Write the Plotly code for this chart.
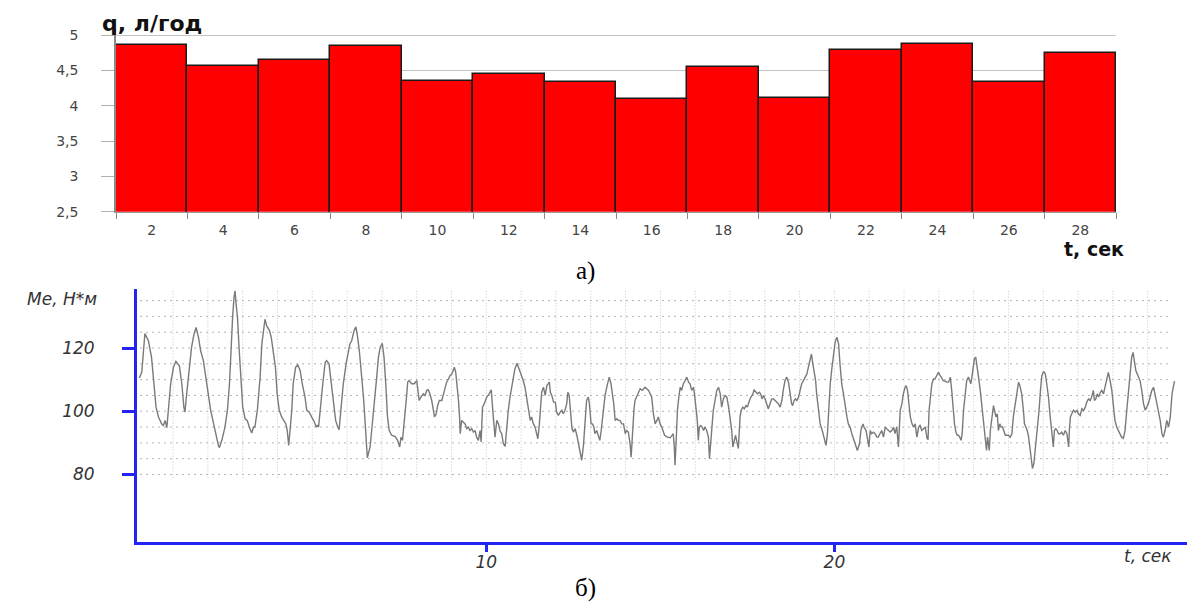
import plotly.graph_objects as go

# ---------------- data: top histogram ----------------
hist_t = [2, 4, 6, 8, 10, 12, 14, 16, 18, 20, 22, 24, 26, 28]
hist_q = [4.86, 4.56, 4.64, 4.85, 4.35, 4.45, 4.34, 4.10, 4.55, 4.11, 4.79, 4.88, 4.34, 4.75]
hist_labels = ["2", "4", "6", "8", "10", "12", "14", "16", "18", "20", "22", "24", "26", "28"]
q_ticks = [2.5, 3, 3.5, 4, 4.5, 5]
q_labels = ["2,5", "3", "3,5", "4", "4,5", "5"]

# ---------------- data: bottom torque record ----------------
me_t = [
    0.03, 0.10, 0.19, 0.29, 0.38, 0.45, 0.51, 0.58, 0.67, 0.72,
    0.77, 0.82, 0.86, 0.93, 1.01, 1.08, 1.18, 1.25, 1.31, 1.34,
    1.39, 1.47, 1.53, 1.60, 1.66, 1.73, 1.79, 1.87, 1.95, 2.01,
    2.08, 2.16, 2.23, 2.30, 2.33, 2.40, 2.49, 2.56, 2.62, 2.66,
    2.71, 2.75, 2.78, 2.81, 2.85, 2.90, 2.95, 3.00, 3.07, 3.13,
    3.19, 3.26, 3.31, 3.35, 3.42, 3.50, 3.55, 3.61, 3.64, 3.69,
    3.77, 3.82, 3.88, 3.94, 3.99, 4.05, 4.12, 4.19, 4.24, 4.28,
    4.32, 4.36, 4.41, 4.45, 4.52, 4.58, 4.65, 4.71, 4.79, 4.84,
    4.91, 4.98, 5.06, 5.11, 5.14, 5.18, 5.24, 5.30, 5.37, 5.41,
    5.48, 5.54, 5.61, 5.67, 5.73, 5.77, 5.82, 5.89, 5.97, 6.04,
    6.08, 6.13, 6.20, 6.25, 6.29, 6.35, 6.41, 6.47, 6.52, 6.58,
    6.66, 6.73, 6.80, 6.85, 6.90, 6.95, 7.01, 7.06, 7.11, 7.16,
    7.21, 7.28, 7.38, 7.45, 7.51,
    7.55, 7.59, 7.63, 7.66, 7.71, 7.74, 7.78, 7.85, 7.93, 8.00,
    8.03, 8.07, 8.12, 8.19, 8.24, 8.29, 8.33, 8.38, 8.43, 8.48,
    8.51, 8.56, 8.60, 8.65, 8.72, 8.77, 8.81, 8.86, 8.91, 8.96,
    9.01, 9.05, 9.08, 9.12, 9.16, 9.20, 9.23, 9.25, 9.29, 9.34,
    9.39, 9.44, 9.48, 9.53, 9.58, 9.63, 9.68, 9.72, 9.77, 9.82,
    9.85, 9.89, 9.94, 10.01, 10.08, 10.14, 10.17, 10.20, 10.25, 10.30,
    10.35, 10.39, 10.44, 10.49, 10.54, 10.58, 10.63, 10.68, 10.73, 10.78,
    10.82, 10.88, 10.94, 11.00, 11.06, 11.11, 11.16, 11.21, 11.26, 11.30,
    11.35, 11.40, 11.45, 11.48, 11.52, 11.55, 11.59, 11.64, 11.69, 11.74,
    11.78, 11.81, 11.84, 11.88, 11.93, 11.98, 12.02, 12.07, 12.12, 12.17,
    12.21, 12.26, 12.31, 12.34, 12.38, 12.42, 12.46, 12.50, 12.55, 12.60,
    12.65, 12.69, 12.74, 12.79, 12.84, 12.88, 12.93, 12.96, 13.01, 13.05,
    13.09, 13.12, 13.17, 13.22, 13.26, 13.30, 13.34, 13.37, 13.41, 13.47,
    13.53, 13.58, 13.62, 13.66, 13.70, 13.75, 13.79, 13.84, 13.89, 13.94,
    13.99, 14.03, 14.08, 14.13, 14.16, 14.20, 14.24, 14.27, 14.32, 14.37,
    14.42, 14.48, 14.56, 14.66, 14.70, 14.75, 14.80, 14.85, 14.90, 14.94,
    14.99, 15.04, 15.12,
    15.20, 15.28, 15.33, 15.37, 15.40, 15.42, 15.45, 15.49, 15.53, 15.57,
    15.61, 15.66, 15.71, 15.76, 15.81, 15.85, 15.90, 15.95, 15.98, 16.03,
    16.06, 16.09, 16.12, 16.16, 16.20, 16.24, 16.28, 16.33, 16.38, 16.41,
    16.45, 16.48, 16.52, 16.57, 16.62, 16.67, 16.72, 16.76, 16.81, 16.86,
    16.91, 16.96, 17.00, 17.05, 17.08, 17.12, 17.16, 17.19, 17.24, 17.29,
    17.32, 17.37, 17.41, 17.46, 17.50, 17.56, 17.60, 17.66, 17.69, 17.75,
    17.79, 17.84, 17.88, 17.92, 17.96, 18.01, 18.06, 18.10, 18.15, 18.20,
    18.25, 18.30, 18.34, 18.39, 18.44, 18.49, 18.53, 18.58, 18.63, 18.68,
    18.73, 18.77, 18.80, 18.84, 18.88, 18.92, 18.97, 19.01, 19.06, 19.11,
    19.16, 19.21, 19.25, 19.30, 19.34, 19.38, 19.42, 19.46, 19.49, 19.54,
    19.59, 19.65, 19.70, 19.76, 19.80, 19.84, 19.88, 19.93, 19.97, 20.02,
    20.07, 20.12, 20.16, 20.21, 20.26, 20.31, 20.36, 20.40, 20.45, 20.50,
    20.55, 20.60, 20.66, 20.72, 20.76, 20.82, 20.85, 20.91, 20.95, 20.99,
    21.03, 21.07, 21.12, 21.17, 21.22, 21.26, 21.31, 21.36, 21.41, 21.46,
    21.50, 21.55, 21.60, 21.65, 21.70, 21.74, 21.79, 21.84, 21.89, 21.94,
    21.98, 22.03, 22.06, 22.10, 22.14, 22.18, 22.23, 22.27, 22.32, 22.37,
    22.42, 22.46, 22.51, 22.56, 22.61, 22.66, 22.69, 22.72, 22.76,
    22.80, 22.85, 22.89, 22.94, 22.99, 23.04, 23.09, 23.13, 23.18, 23.23,
    23.28, 23.31, 23.33, 23.37, 23.41, 23.45, 23.49, 23.53, 23.56, 23.60,
    23.64, 23.67, 23.71, 23.76, 23.80, 23.85, 23.88, 23.92, 23.95, 23.99,
    24.02, 24.06, 24.10, 24.14, 24.19, 24.23, 24.28, 24.31, 24.34, 24.37,
    24.40, 24.43, 24.45, 24.48, 24.52, 24.57, 24.60, 24.64, 24.68, 24.71,
    24.75, 24.79, 24.83, 24.87, 24.91, 24.95, 25.00, 25.05, 25.10, 25.14,
    25.19, 25.24, 25.29, 25.33, 25.38, 25.43, 25.46, 25.50, 25.54, 25.58,
    25.61, 25.65, 25.69, 25.73, 25.77, 25.81, 25.84, 25.88, 25.92, 25.96,
    26.01, 26.06, 26.10, 26.15, 26.20, 26.25, 26.29, 26.32, 26.36, 26.40,
    26.44, 26.49, 26.53, 26.58, 26.63, 26.68, 26.73, 26.75, 26.78, 26.82,
    26.87, 26.92, 26.97, 27.01, 27.06, 27.11, 27.16, 27.21, 27.25, 27.30,
    27.35, 27.39, 27.44, 27.47, 27.51, 27.55, 27.59, 27.64, 27.68, 27.73,
    27.78, 27.83, 27.87, 27.92, 27.97, 28.02, 28.06, 28.11, 28.16, 28.21,
    28.25, 28.30, 28.35, 28.40, 28.45, 28.49, 28.54, 28.58, 28.62, 28.66,
    28.70, 28.74, 28.78, 28.83, 28.88, 28.93, 28.97, 29.02, 29.07, 29.12,
    29.17, 29.21, 29.26, 29.31, 29.36, 29.41, 29.45, 29.50, 29.55, 29.60,
    29.65, 29.70, 29.75, 29.77,
]
me_v = [
    110.5, 112.3, 124.6, 122.3, 117.1, 108.7, 101.3, 98.2, 96.0, 95.5,
    97.1, 94.8, 100.3, 108.7, 113.9, 115.8, 114.4, 108.7, 101.3, 99.7,
    105.5, 113.9, 120.2, 124.4, 126.5, 123.4, 119.2, 116.0, 110.8, 105.5,
    100.3, 96.0, 91.8, 89.2, 88.5, 90.8, 95.0, 100.3, 108.7, 119.2,
    129.7, 136.0, 138.1, 133.9, 129.7, 119.2, 108.7, 101.3, 97.6, 97.1,
    95.0, 93.1, 95.0, 95.0, 100.3, 110.8, 121.3, 127.6, 129.1, 127.0,
    125.5, 123.4, 119.2, 113.9, 105.5, 100.3, 98.2, 97.1, 96.0, 93.9,
    89.2, 93.9, 100.3, 108.7, 113.9, 114.7, 112.9, 108.7, 104.5, 100.3,
    99.7, 98.2, 96.6, 95.0, 95.5, 95.0, 102.4, 108.7, 115.5, 116.0,
    115.0, 108.7, 102.4, 97.1, 95.0, 94.2, 100.3, 108.7, 115.0, 119.2,
    121.3, 122.3, 125.5, 126.7, 124.4, 119.2, 112.9, 104.5, 96.0, 85.3,
    88.7, 96.0, 104.5, 110.8, 117.1, 120.2, 121.5, 117.1, 108.7, 98.2,
    93.9, 92.4, 92.0, 90.8, 88.7,
    91.8, 90.8, 95.0, 100.3, 105.0, 109.2, 109.7, 108.7, 108.7, 109.7,
    107.6, 103.4, 104.5, 105.5, 105.0, 106.6, 106.8, 105.5, 103.4, 100.3,
    98.2, 99.2, 101.8, 103.4, 103.4, 105.5, 107.1, 109.2, 110.2, 111.3,
    111.8, 113.4, 113.9, 112.3, 108.7, 103.4, 98.2, 92.9, 97.1, 96.6,
    96.0, 94.5, 95.0, 93.9, 94.5, 93.4, 93.9, 91.8, 90.8, 93.9,
    90.3, 101.3, 102.4, 104.5, 105.5, 106.8, 103.4, 98.2, 91.8, 97.1,
    96.0, 93.9, 92.9, 89.7, 88.9, 95.5, 100.3, 104.5, 107.6, 110.8,
    113.4, 115.2, 113.4, 111.8, 109.7, 107.6, 104.5, 100.3, 97.1, 98.2,
    96.0, 95.0, 92.4, 91.3, 95.5, 101.8, 106.0, 107.6, 105.0, 108.1,
    108.7, 109.2, 106.0, 105.0, 102.9, 102.9, 99.7, 98.7, 99.7, 100.3,
    99.2, 100.3, 102.4, 106.0, 105.0, 99.7, 94.5, 93.4, 94.5, 92.4,
    89.2, 87.6, 84.5, 89.2, 98.2, 103.4, 104.5, 102.4, 96.0, 96.0,
    95.0, 92.9, 93.9, 91.8, 90.8, 93.9, 98.2, 101.8, 105.0, 108.1,
    110.8, 108.7, 105.5, 102.4, 97.1, 97.6, 97.1, 97.1, 96.0, 96.0,
    92.9, 93.9, 93.4, 89.7, 85.5, 93.9, 100.3, 103.4, 104.5, 105.5,
    107.1, 106.6, 107.6, 106.6, 105.5, 104.5, 99.2, 96.0, 97.1, 98.2,
    96.0, 95.0, 92.4,
    91.8, 91.6, 92.4, 92.9, 88.7, 82.9, 89.7, 100.3, 104.5, 107.6,
    106.6, 108.7, 109.7, 110.8, 109.2, 108.7, 106.6, 107.6, 105.5, 101.3,
    97.1, 90.8, 95.0, 95.5, 95.0, 93.9, 95.0, 93.9, 91.8, 85.0,
    90.8, 97.1, 100.3, 103.4, 106.6, 107.6, 105.5, 101.3, 103.9, 105.0,
    104.5, 101.3, 98.2, 93.9, 88.7, 90.8, 92.4, 90.8, 88.2, 98.2,
    100.3, 101.3, 100.8, 101.8, 101.3, 103.4, 104.5, 105.5, 106.8, 106.0,
    105.5, 106.0, 105.5, 103.9, 105.0, 103.9, 101.8, 100.8, 102.4, 103.9,
    103.9, 103.4, 102.9, 102.4, 101.3, 103.4, 106.6, 109.7, 110.8, 109.2,
    105.5, 102.4, 101.8, 103.4, 103.9, 103.4, 104.5, 106.6, 108.7, 109.7,
    110.8, 111.8, 113.9, 116.0, 118.1, 115.0, 112.9, 109.7, 105.5, 100.3,
    96.0, 93.9, 91.8, 89.2, 92.9, 100.3, 108.7, 113.9, 118.1, 121.8,
    123.4, 121.3, 115.0, 108.7, 105.5, 101.3, 98.2, 96.0, 95.0, 92.9,
    91.3, 89.7, 87.6, 89.7, 93.9, 96.0, 95.0, 93.9, 90.8, 88.7,
    93.9, 92.9, 93.4, 92.9, 91.8, 91.8, 92.9, 93.9, 91.8, 95.0,
    94.5, 93.9, 93.4, 93.9, 95.0, 92.9, 95.0, 88.7, 100.3, 102.4,
    105.5, 107.6, 108.1, 106.6, 102.4, 98.2, 96.0, 95.0, 96.0, 91.8,
    95.0, 95.5, 93.9, 94.5, 95.0, 91.5, 91.0, 100.3, 105.5,
    108.7, 110.2, 110.2, 111.3, 112.3, 111.3, 110.2, 109.7, 109.5, 109.2,
    109.2, 110.2, 110.8, 106.6, 100.3, 96.0, 93.4, 92.4, 92.4, 91.8,
    90.8, 92.9, 100.3, 106.6, 109.7, 110.8, 109.7, 108.7, 110.8, 113.9,
    116.5, 117.1, 114.4, 110.8, 106.6, 102.4, 98.2, 95.0, 90.8, 87.6,
    91.8, 88.7, 87.6, 93.9, 98.2, 101.8, 100.3, 98.2, 99.2, 93.9,
    96.0, 95.0, 95.0, 93.9, 92.4, 92.4, 92.4, 91.8, 92.9, 98.2,
    102.4, 106.6, 109.2, 108.1, 105.5, 100.3, 96.0, 95.0, 93.9, 91.8,
    88.7, 84.5, 81.9, 83.4, 87.6, 90.8, 93.9, 100.3, 106.6, 111.3,
    112.6, 111.8, 108.7, 104.5, 98.2, 92.9, 88.7, 93.9, 94.5, 93.9,
    92.9, 92.9, 93.4, 92.4, 93.9, 92.9, 88.7, 93.9, 98.2, 99.2,
    100.3, 99.7, 100.3, 99.2, 98.7, 100.8, 100.3, 101.3, 102.9, 103.9,
    103.4, 104.5, 106.6, 103.4, 103.9, 105.5, 104.5, 106.0, 106.6, 105.5,
    107.6, 109.7, 112.3, 109.7, 106.6, 101.3, 97.1, 95.0, 93.9, 92.9,
    91.8, 91.4, 93.9, 100.3, 106.6, 111.8, 117.1, 118.6, 116.0, 112.9,
    111.8, 110.8, 109.7, 106.6, 102.4, 100.3, 101.3, 102.4, 104.5, 106.6,
    107.6, 105.5, 103.4, 100.3, 97.1, 92.9, 91.8, 93.9, 97.1, 95.0,
    98.2, 105.5, 109.2, 109.5,
]
n_pts = min(len(me_t), len(me_v))
me_t, me_v = me_t[:n_pts], me_v[:n_pts]

me_ticks = [80, 100, 120]
me_labels = ["80", "100", "120"]
t_ticks = [10, 20]
t_labels = ["10", "20"]
grid_me = [80, 85, 90, 95, 100, 105, 110, 115, 120, 125, 130, 135]
grid_t = list(range(1, 30))

# ---------------- figure ----------------
W, H = 1195, 610
OFF = 8            # page body margin of the html page
SY = 618 / 610     # vertical squeeze observed in the photographed page
BLUE = "#2323f5"


def fx(px):
    return (px - OFF) / W


def fy(py):
    return 1 - (py * SY - OFF) / H


bin_edges = [c - 1 for c in hist_t] + [hist_t[-1] + 1]

fig = go.Figure()
fig.add_trace(go.Bar(
    x=hist_t, y=hist_q, width=2, xaxis="x", yaxis="y",
    marker=dict(color="#ff0000", line=dict(color="#1a1a1a", width=1.5)),
    showlegend=False, hoverinfo="x+y",
))
fig.add_trace(go.Scatter(
    x=me_t, y=me_v, mode="lines", xaxis="x2", yaxis="y2",
    line=dict(color="#7a7a7a", width=1.4), showlegend=False,
))

shapes = []
for g in grid_me:
    shapes.append(dict(type="line", xref="x2", yref="y2", x0=0.05, x1=29.7, y0=g, y1=g,
                       line=dict(color="#b4b4b4", width=1, dash="2px,4px"), layer="below"))
for g in grid_t:
    shapes.append(dict(type="line", xref="x2", yref="y2", x0=g, x1=g, y0=79.0, y1=138.8,
                       line=dict(color="#c6c6c6", width=1, dash="1px,2px"), layer="below"))

top_font = dict(family="DejaVu Sans", size=14, color="#444444")
bot_font = dict(family="DejaVu Sans", size=17, color="#333333", style="italic")

annotations = [
    dict(text="q, л/год", x=fx(152), y=1.0, xref="paper", yref="paper",
         showarrow=False, xanchor="center", yanchor="top",
         font=dict(family="DejaVu Sans", size=22, color="#111111", weight="bold")),
    dict(text="t, сек", x=fx(1094), y=fy(248), xref="paper", yref="paper",
         showarrow=False, xanchor="center", yanchor="middle",
         font=dict(family="DejaVu Sans", size=19, color="#111111", weight="bold")),
    dict(text="а)", x=fx(585), y=fy(270), xref="paper", yref="paper",
         showarrow=False, xanchor="center", yanchor="middle",
         font=dict(family="Liberation Serif", size=25, color="#000000")),
    dict(text="Me, Н*м", x=fx(62), y=fy(298), xref="paper", yref="paper",
         showarrow=False, xanchor="center", yanchor="middle",
         font=dict(family="DejaVu Sans", size=17, color="#333333", style="italic")),
    dict(text="t, сек", x=fx(1148), y=fy(556), xref="paper", yref="paper",
         showarrow=False, xanchor="center", yanchor="middle",
         font=dict(family="DejaVu Sans", size=17, color="#333333", style="italic")),
    dict(text="б)", x=fx(585), y=fy(588), xref="paper", yref="paper",
         showarrow=False, xanchor="center", yanchor="middle",
         font=dict(family="Liberation Serif", size=25, color="#000000")),
]

fig.update_layout(
    width=W, height=H, autosize=False,
    margin=dict(l=0, r=0, t=0, b=0),
    paper_bgcolor="white", plot_bgcolor="white",
    showlegend=False, bargap=0,
    xaxis=dict(
        domain=[fx(116), fx(1116)], range=[1, 29], anchor="y",
        tickmode="array", tickvals=hist_t, ticktext=hist_labels, ticks="",
        showgrid=False, zeroline=False, showline=True, linecolor="#9a9a9a", linewidth=1,
        minor=dict(tickmode="array", tickvals=bin_edges, ticks="outside", ticklen=6,
                   tickcolor="#8a8a8a", tickwidth=1, showgrid=False),
        tickfont=top_font, ticklabelstandoff=5,
    ),
    yaxis=dict(
        domain=[fy(211), fy(27)], range=[2.5, 5.1], anchor="x",
        tickmode="array", tickvals=q_ticks, ticktext=q_labels,
        ticks="outside", ticklen=13, tickcolor="#b0b0b0", tickwidth=1,
        showgrid=True, gridcolor="#c4c4c4", gridwidth=1, zeroline=False,
        showline=True, linecolor="#8a8a8a", linewidth=1.5,
        tickfont=top_font, ticklabelstandoff=20,
    ),
    xaxis2=dict(
        domain=[fx(137), min(1.0, fx(1187))], range=[-0.037, 30.13], anchor="y2",
        tickmode="array", tickvals=t_ticks, ticktext=t_labels,
        ticks="outside", ticklen=7, tickwidth=3, tickcolor=BLUE,
        showline=True, linecolor=BLUE, linewidth=3, showgrid=False, zeroline=False,
        tickfont=bot_font, ticklabelstandoff=-5,
    ),
    yaxis2=dict(
        domain=[fy(542), fy(288)], range=[58.6, 138.8], anchor="x2",
        tickmode="array", tickvals=me_ticks, ticktext=me_labels,
        ticks="outside", ticklen=12, tickwidth=2.5, tickcolor=BLUE,
        showline=True, linecolor=BLUE, linewidth=3, showgrid=False, zeroline=False,
        tickfont=bot_font, ticklabelposition="outside", ticklabelstandoff=24,
    ),
    shapes=shapes,
    annotations=annotations,
)

fig.write_html("out.html")
